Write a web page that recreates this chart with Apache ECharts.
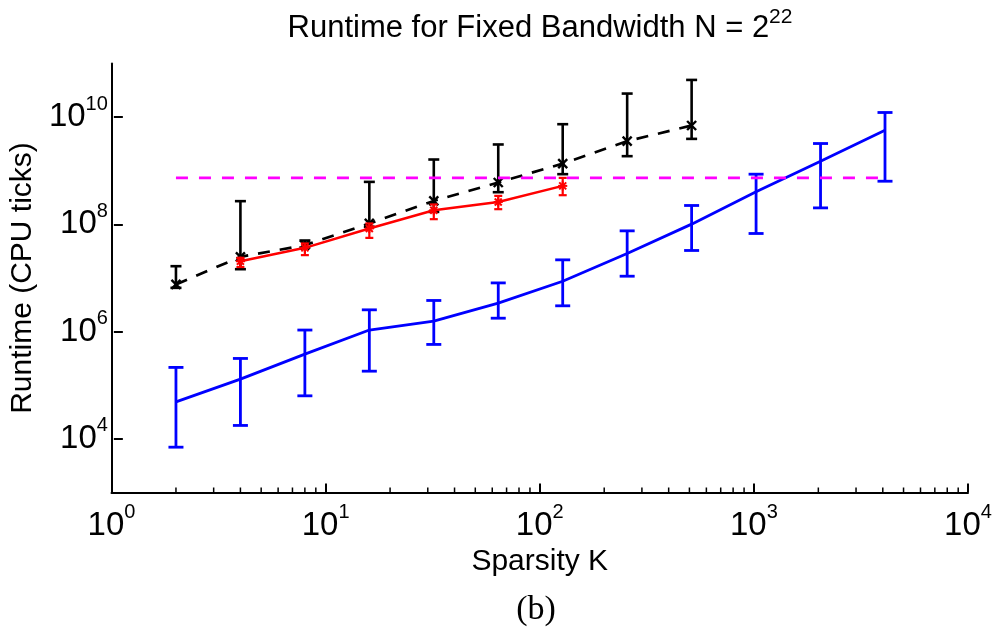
<!DOCTYPE html>
<html><head><meta charset="utf-8">
<script src="https://cdn.jsdelivr.net/npm/echarts@6/dist/echarts.min.js"></script>
<style>html,body{margin:0;padding:0;background:#fff}#c{width:995px;height:628px}</style>
</head><body><div id="c"></div>
<script>
// ---- data ----
const sparsityK = [2, 4, 8, 16, 32, 64, 128, 256, 512, 1024, 2048, 4096];
const blueMean = [4.9e4, 1.3e5, 3.8e5, 1.07e6, 1.57e6, 3.4e6, 8.7e6, 2.86e7, 1.01e8, 4.04e8, 1.51e9, 5.7e9];
const blueLow  = [7.0e3, 1.78e4, 6.35e4, 1.83e5, 5.77e5, 1.78e6, 3.03e6, 1.08e7, 3.26e7, 6.76e7, 2.03e8, 6.38e8];
const blueHigh = [2.15e5, 3.16e5, 1.07e6, 2.55e6, 3.81e6, 8.1e6, 2.18e7, 7.57e7, 2.25e8, 8.63e8, 3.22e9, 1.22e10];

const blackK = [2, 4, 8, 16, 32, 64, 128, 256, 512];
const blackMean = [7.6e6, 2.48e7, 4.1e7, 1.04e8, 2.74e8, 6.04e8, 1.36e9, 3.56e9, 6.98e9];
const blackLow  = [6.55e6, 1.46e7, 3.7e7, 9.0e7, 1.71e8, 3.98e8, 8.63e8, 1.87e9, 3.93e9];
const blackHigh = [1.66e7, 2.71e8, 5.0e7, 6.2e8, 1.62e9, 3.09e9, 7.38e9, 2.75e10, 4.94e10];

const redK = [4, 8, 16, 32, 64, 128];
const redMean = [2.06e7, 3.65e7, 8.4e7, 1.84e8, 2.62e8, 5.22e8];
const redLow  = [1.6e7, 2.67e7, 5.6e7, 1.25e8, 1.92e8, 3.5e8];
const redHigh = [2.38e7, 4.4e7, 1.04e8, 2.35e8, 3.4e8, 7.36e8];

const limitK = [2, 4096];
const limitVal = [7.36e8, 7.36e8];

const xMin = 1, xMax = 1e4;
const yMin = 1e3, yMax = 1e11;
const yTickExpMin = 4, yTickExpMax = 10, yTickExpStep = 2;
const minorMult = [2, 3, 4, 5, 6, 7, 8, 9];
const minorDecades = [1, 10, 100, 1000];

const titleMain = 'Runtime for Fixed Bandwidth N = 2';
const titleSup = '22';
const xName = 'Sparsity K';
const yName = 'Runtime (CPU ticks)';
const caption = '(b)';

// ---- helpers ----
const FONT = '"Liberation Sans", Arial, Helvetica, sans-serif';
const zip = (xs, ys) => xs.map((x, i) => [x, ys[i]]);
const zip4 = (xs, a, b, c) => xs.map((x, i) => [x, a[i], b[i], c[i]]);
const minorVals = [];
minorDecades.forEach(d => minorMult.forEach(m => minorVals.push([m * d])));

const supRich = {
  b: { fontSize: 33, lineHeight: 34, fontFamily: FONT, color: '#000', fontWeight: 'normal' },
  s: { fontSize: 20, padding: [0, 0, 26, 0], verticalAlign: 'top', fontFamily: FONT, color: '#000', fontWeight: 'normal' }
};

function errorRender(color, capHalf, lw, marker, mSize, mlw) {
  return function (params, api) {
    const x = api.value(0);
    const c = api.coord([x, api.value(1)]);
    const lo = api.coord([x, api.value(2)]);
    const hi = api.coord([x, api.value(3)]);
    const st = { stroke: color, lineWidth: lw, fill: null };
    const ms = { stroke: color, lineWidth: mlw, fill: null };
    const ch = [
      { type: 'line', shape: { x1: lo[0], y1: lo[1], x2: hi[0], y2: hi[1] }, style: st },
      { type: 'line', shape: { x1: lo[0] - capHalf, y1: lo[1], x2: lo[0] + capHalf, y2: lo[1] }, style: st },
      { type: 'line', shape: { x1: hi[0] - capHalf, y1: hi[1], x2: hi[0] + capHalf, y2: hi[1] }, style: st }
    ];
    if (marker) {
      const s = mSize;
      ch.push({ type: 'line', shape: { x1: c[0] - s, y1: c[1] - s, x2: c[0] + s, y2: c[1] + s }, style: ms });
      ch.push({ type: 'line', shape: { x1: c[0] - s, y1: c[1] + s, x2: c[0] + s, y2: c[1] - s }, style: ms });
      if (marker === 'star') {
        const t = s * 1.3;
        ch.push({ type: 'line', shape: { x1: c[0], y1: c[1] - t, x2: c[0], y2: c[1] + t }, style: ms });
        ch.push({ type: 'line', shape: { x1: c[0] - t, y1: c[1], x2: c[0] + t, y2: c[1] }, style: ms });
      }
    }
    return { type: 'group', children: ch };
  };
}

const chart = echarts.init(document.getElementById('c'), null, { renderer: 'canvas' });
const gridTop = 63.5, gridBottomY = 492.5, H = 628;
const decadePx = (gridBottomY - gridTop) / (Math.log10(yMax) - Math.log10(yMin));
const g1Top = gridTop + decadePx * (Math.log10(yMax) - yTickExpMax);
const g1Bottom = H - (gridBottomY - decadePx * (yTickExpMin - Math.log10(yMin)));

chart.setOption({
  animation: false,
  backgroundColor: '#fff',
  title: {
    text: '{a|' + titleMain + '}{s|' + titleSup + '}',
    left: 540, top: 7, textAlign: 'center', padding: 0,
    textStyle: {
      fontWeight: 'normal',
      rich: {
        a: { fontSize: 31, lineHeight: 34, fontFamily: FONT, color: '#000', fontWeight: 'normal' },
        s: { fontSize: 21, padding: [0, 0, 21, 0], verticalAlign: 'top', fontFamily: FONT, color: '#000', fontWeight: 'normal' }
      }
    }
  },
  grid: [
    { left: 111.5, right: 27, top: gridTop, bottom: H - gridBottomY },
    { left: 111.5, right: 27, top: g1Top, bottom: g1Bottom }
  ],
  xAxis: [
    {
      type: 'log', logBase: 10, gridIndex: 0, min: xMin, max: xMax,
      axisLine: { show: true, lineStyle: { color: '#000', width: 2 } },
      axisTick: { show: true, inside: true, length: 9, lineStyle: { color: '#000', width: 2 } },
      splitLine: { show: false },
      axisLabel: {
        showMinLabel: true, showMaxLabel: true, margin: 10,
        formatter: v => '{b|10}{s|' + Math.round(Math.log10(v)) + '}',
        rich: supRich
      },
      name: xName, nameLocation: 'middle', nameGap: 48,
      nameTextStyle: { fontSize: 30, fontFamily: FONT, color: '#000' }
    },
    { type: 'value', gridIndex: 1, show: false, min: 0, max: 1 }
  ],
  yAxis: [
    {
      type: 'log', logBase: 10, gridIndex: 0, min: yMin, max: yMax,
      axisLine: { show: true, lineStyle: { color: '#000', width: 2 } },
      axisTick: { show: false }, axisLabel: { show: false }, splitLine: { show: false }
    },
    {
      type: 'value', gridIndex: 1, min: yTickExpMin, max: yTickExpMax, interval: yTickExpStep,
      axisLine: { show: false },
      axisTick: { show: true, inside: true, length: 9, lineStyle: { color: '#000', width: 2 } },
      splitLine: { show: false },
      axisLabel: {
        margin: 6, showMinLabel: true, showMaxLabel: true,
        formatter: v => '{b|10}{s|' + v + '}',
        rich: supRich
      },
      name: yName, nameLocation: 'middle', nameGap: 72,
      nameTextStyle: { fontSize: 30, fontFamily: FONT, color: '#000' }
    }
  ],
  graphic: [
    { type: 'text', x: 536, y: 610, style: { text: caption, font: '34px "Liberation Serif", "DejaVu Serif", serif', fill: '#000', textAlign: 'center', textVerticalAlign: 'middle' } }
  ],
  series: [
    { type: 'custom', name: 'minor', xAxisIndex: 0, yAxisIndex: 0, data: minorVals, encode: { x: 0 }, silent: true,
      renderItem: (params, api) => {
        const p = api.coord([api.value(0), yMin]);
        return { type: 'line', shape: { x1: p[0], y1: p[1], x2: p[0], y2: p[1] - 5 }, style: { stroke: '#000', lineWidth: 1.5 } };
      } },
    { type: 'line', name: 'blue', data: zip(sparsityK, blueMean), showSymbol: false, symbol: 'none',
      lineStyle: { color: '#0000ff', width: 2.8 }, z: 3 },
    { type: 'custom', name: 'blueErr', data: zip4(sparsityK, blueMean, blueLow, blueHigh), encode: { x: 0, y: [1, 2, 3] },
      renderItem: errorRender('#0000ff', 7.5, 2.8, null), z: 3 },
    { type: 'line', name: 'black', data: zip(blackK, blackMean), showSymbol: false, symbol: 'none',
      lineStyle: { color: '#000', width: 2.7, type: [12, 10] }, z: 4 },
    { type: 'custom', name: 'blackErr', data: zip4(blackK, blackMean, blackLow, blackHigh), encode: { x: 0, y: [1, 2, 3] },
      renderItem: errorRender('#000', 5.5, 2.6, 'x', 4.5, 2.4), z: 4 },
    { type: 'line', name: 'red', data: zip(redK, redMean), showSymbol: false, symbol: 'none',
      lineStyle: { color: '#ff0000', width: 2.5 }, z: 5 },
    { type: 'custom', name: 'redErr', data: zip4(redK, redMean, redLow, redHigh), encode: { x: 0, y: [1, 2, 3] },
      renderItem: errorRender('#ff0000', 4, 2.2, 'star', 3.5, 2), z: 5 },
    { type: 'line', name: 'limit', data: zip(limitK, limitVal), showSymbol: false, symbol: 'none',
      lineStyle: { color: '#ff00ff', width: 2.7, type: [12, 11] }, z: 6 }
  ]
});
</script>
</body></html>
